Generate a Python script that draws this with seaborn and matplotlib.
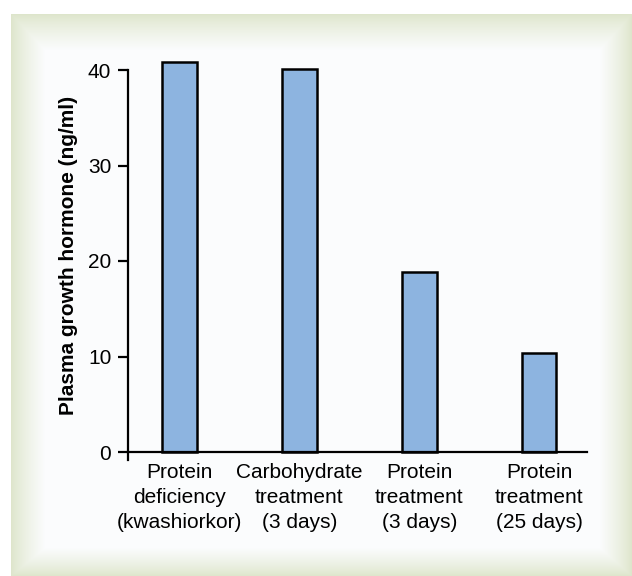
import numpy as np
import matplotlib.pyplot as plt
import seaborn as sns

categories = ["Protein\ndeficiency\n(kwashiorkor)", "Carbohydrate\ntreatment\n(3 days)",
              "Protein\ntreatment\n(3 days)", "Protein\ntreatment\n(25 days)"]
values = [40.8, 40.1, 18.8, 10.4]
yticks = [0, 10, 20, 30, 40]

sns.set_style("white")
plt.rcParams['font.family'] = ['Liberation Sans', 'DejaVu Sans']
plt.rcParams['text.color'] = 'black'
plt.rcParams['axes.labelcolor'] = 'black'
plt.rcParams['xtick.color'] = 'black'
plt.rcParams['ytick.color'] = 'black'

W, H = 632, 576
fig = plt.figure(figsize=(W / 100, H / 100), dpi=100)

# framed background with bevelled green edge
bg = fig.add_axes([0, 0, 1, 1], zorder=-10)
xx, yy = np.meshgrid(np.arange(W) + 0.5, np.arange(H) + 0.5)
x0, y0 = 11, 14
d = np.minimum.reduce([(xx - x0) / 34, (W - xx) / 32, (yy - y0) / 36, (H - yy) / 28])
t = np.clip(d, 0, 1) ** 0.8
green = np.array([221, 229, 202]) / 255
inner = np.array([251, 252, 253]) / 255
img = green[None, None, :] * (1 - t[..., None]) + inner[None, None, :] * t[..., None]
mask = (xx < x0) | (yy < y0)
img[mask] = 1.0
bg.imshow(img, extent=[0, W, H, 0], aspect='auto', interpolation='bilinear')
bg.set_axis_off()

ppu = (452 - 70) / 40.0
ybot = -8 / ppu
ytop = 42
ax = fig.add_axes([128 / W, 1 - 460 / H, (587 - 128) / W,
                   (460 - (70 - (ytop - 40) * ppu)) / H])
ax.patch.set_alpha(0)
sns.barplot(x=categories, y=values, color="#8db4e0", edgecolor="black",
            linewidth=1.8, width=0.29, saturation=1, ax=ax)

ax.set_xlim(-0.43, 3.4)
ax.set_ylim(ybot, ytop)
ax.set_yticks(yticks)
ax.spines['top'].set_visible(False)
ax.spines['right'].set_visible(False)
ax.spines['bottom'].set_position(('data', 0))
ax.spines['left'].set_bounds(ybot, 40)
for s in ['left', 'bottom']:
    ax.spines[s].set_linewidth(1.6)
    ax.spines[s].set_color('black')
ax.tick_params(axis='y', direction='out', length=7, width=1.6, left=True,
               labelsize=15, pad=5, colors='black')
ax.tick_params(axis='x', length=0, labelsize=15, pad=8, colors='black')
for lab in ax.get_xticklabels():
    lab.set_linespacing(1.38)
ax.set_ylabel("Plasma growth hormone (ng/ml)", fontsize=15, fontweight='bold',
              labelpad=7, color='black')

fig.savefig("out.png", dpi=100)
